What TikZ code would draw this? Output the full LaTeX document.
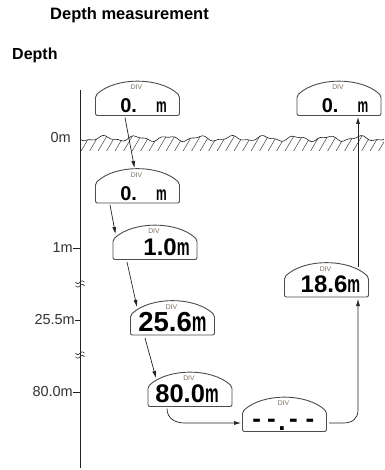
\documentclass[tikz,border=0pt]{standalone}
\usepackage{fontspec}
\setmainfont{Liberation Sans}
\usepackage{graphicx}
\usetikzlibrary{arrows.meta}
\definecolor{divcol}{HTML}{7A6F60}
\definecolor{ink}{HTML}{222222}
\newcommand\lcdm{\scalebox{0.6}[1]{m}}
\newcommand\lcdsize[1]{\fontsize{#1}{#1}\selectfont\bfseries}
\newcommand\dash{\raisebox{2.7pt}{-}}
\newcommand\dispbox[3]{%
  \node[dispnode] (#1) at (#2,#3) {};
  \draw[displine] (#1.south west) -- ([yshift=20pt]#1.south west)
    .. controls ([xshift=20pt,yshift=4.7pt]#1.north west) and ([xshift=-20pt,yshift=4.7pt]#1.north east) .. ([yshift=20pt]#1.south east)
    -- (#1.south east) -- cycle;
  \node[divtext] at ([xshift=-1pt,yshift=-6pt]#1.north) {DIV};}
\begin{document}
\begin{tikzpicture}[x=1pt,y=-1pt,
  dispnode/.style={minimum width=84pt,minimum height=34pt,inner sep=0pt,outer sep=0pt},
  displine/.style={draw=black!70,line width=0.9pt,rounded corners=2pt},
  divtext/.style={font=\fontsize{6.8}{7}\selectfont,text=divcol,inner sep=0pt},
  lcd/.style={inner sep=0pt,anchor=base,text=black},
  arr/.style={draw=ink,line width=0.7pt,-{Latex[length=7pt,width=4pt]}},
  depthlabel/.style={font=\fontsize{14.5}{15}\selectfont,text=black!80,inner sep=0pt,anchor=east},
  ink/.style={draw=ink,line width=0.6pt}]
\fill[white] (0,0) rectangle (384,470);
\useasboundingbox (0,0) rectangle (384,470);

% titles
\node[font=\fontsize{16.5}{17}\selectfont\bfseries,anchor=base west,inner sep=0pt] (title) at (50,19.5) {Depth measurement};
\node[font=\fontsize{16}{17}\selectfont\bfseries,anchor=base west,inner sep=0pt] (depth) at (12,60) {Depth};

% axis
\coordinate (axtop) at (80,90);
\coordinate (axbot) at (80,468);
\draw[draw=ink,line width=0.8pt] (axtop) -- (axbot);

% ground
\begin{scope}
  \clip plot[domain=80:384,samples=120] (\x,{138.5-2.2*sin(11.25*\x)-1.0*sin(25*\x+30)}) -- (384,151) -- (80,151) -- cycle;
  \foreach \i in {72,80.5,...,392} \draw[draw=ink!85,line width=0.5pt] (\i,152) -- ++(10,-17);
\end{scope}
\draw[ink] plot[domain=80:384,samples=120] (\x,{138.5-2.2*sin(11.25*\x)-1.0*sin(25*\x+30)});

% depth labels
\node[depthlabel] (l0) at (71,138) {0m};
\node[depthlabel] (l1) at (73,248) {1m};
\node[depthlabel] (l25) at (75,320) {25.5m};
\node[depthlabel] (l80) at (73,392) {80.0m};
\draw[ink] (l1.east) -- (l1.east -| axtop);
\draw[ink] (l25.east) -- (l25.east -| axtop);
\draw[ink] (l80.east) -- (l80.east -| axtop);

% breaks
\foreach \yy in {284,355}{
  \draw[ink] plot[domain=-4.5:4.5,samples=20] ({80+\x},{\yy-1.8-1.3*sin(\x*40)});
  \draw[ink] plot[domain=-4.5:4.5,samples=20] ({80+\x},{\yy+1.8-1.3*sin(\x*40)});
}

% displays
\dispbox{d1}{137.5}{98.5}
\dispbox{d2}{137.5}{186}
\dispbox{d3}{155}{242.5}
\dispbox{d4}{172.5}{318}
\dispbox{d5}{190}{389.5}
\dispbox{d6}{284.5}{414.5}
\dispbox{d7}{326.5}{280}
\dispbox{d8}{339}{98.5}

\node[lcd,font=\lcdsize{20pt}] (t1) at ([xshift=6pt,yshift=2.5pt]d1.south) {0.\hspace{19pt}\lcdm};
\node[lcd,font=\lcdsize{20pt}] (t2) at ([xshift=6pt,yshift=2.5pt]d2.south) {0.\hspace{19pt}\lcdm};
\node[lcd,font=\lcdsize{20pt}] (t8) at ([xshift=6pt,yshift=2.5pt]d8.south) {0.\hspace{19pt}\lcdm};
\node[lcd,font=\lcdsize{24pt}] (t3) at ([xshift=11.5pt,yshift=4.5pt]d3.south) {1.0\lcdm};
\node[lcd,font=\lcdsize{27.5pt}] (t4) at ([yshift=4pt]d4.south) {25.6\lcdm};
\node[lcd,font=\lcdsize{25.5pt}] (t5) at ([xshift=-3pt,yshift=4pt]d5.south) {80.0\lcdm};
\node[lcd,font=\lcdsize{24pt}] (t7) at ([xshift=4pt,yshift=4.5pt]d7.south) {18.6\lcdm};
\node[lcd,font=\lcdsize{26pt}] (t6) at ([xshift=-1.25pt,yshift=1.5pt]d6.south) {\dash\hspace{6.3pt}\dash\hspace{2.5pt}.\hspace{3.5pt}\dash\hspace{7.8pt}\dash};

% arrows
\draw[arr] ([xshift=-12.5pt,yshift=-2pt]d1.south) -- ([xshift=-3pt,yshift=1pt]d2.north);
\draw[arr] ([xshift=-27.5pt,yshift=-2pt]d2.south) -- ([xshift=2.5pt,yshift=-8.5pt]d3.north west);
\draw[arr] ([xshift=-28pt,yshift=-2.5pt]d3.south) -- ([xshift=6.5pt,yshift=-6pt]d4.north west);
\draw[arr] ([xshift=-27.5pt,yshift=-3pt]d4.south) -- ([xshift=8pt,yshift=-5.5pt]d5.north west);
\draw[arr] ([xshift=-23pt,yshift=-2pt]d5.south) .. controls +(0,10) and +(-10,0) .. ([xshift=-57.5pt,yshift=8.5pt]d6.south west) -- ([xshift=-1.5pt,yshift=8.5pt]d6.south west);
\draw[arr] ([xshift=2.5pt,yshift=8.5pt]d6.south east) -- ++(14,0) .. controls +(9,0) and +(0,9) .. ([xshift=31.5pt,yshift=21.5pt]d6.south east) -- ([xshift=31.5pt,yshift=-2pt]d7.south);
\draw[arr] ([xshift=-10.5pt,yshift=-4pt]d7.north east) -- ([xshift=19pt,yshift=-1.5pt]d8.south);
\end{tikzpicture}
\end{document}
